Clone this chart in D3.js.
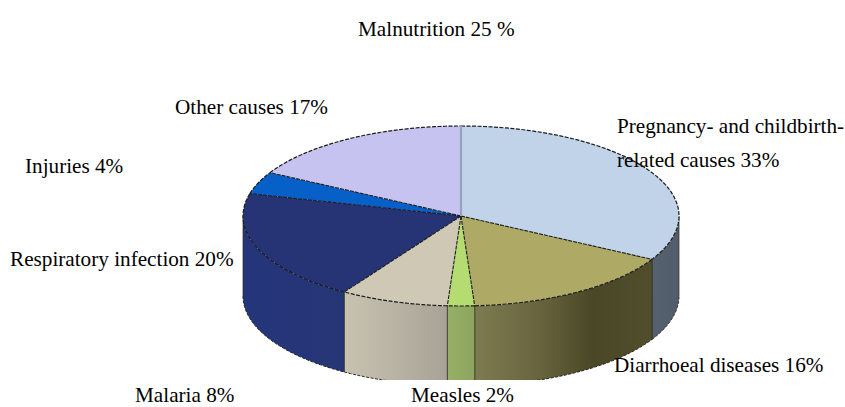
<!DOCTYPE html>
<html>
<head>
<meta charset="utf-8">
<script src="https://cdn.jsdelivr.net/npm/d3@7/dist/d3.min.js"></script>
<style>
html,body{margin:0;padding:0;background:#fff;overflow:hidden}
svg{display:block}
text{font-family:"Liberation Serif",serif;font-size:21.2px;fill:#000}
</style>
</head>
<body>
<svg id="chart" width="845" height="407"></svg>
<script>
// Causes of death shares, clockwise from twelve o'clock
const categories = ["Pregnancy","Diarrhoeal","Measles","Malaria","Respiratory","Injuries","Other"];
const shares = [33,16,2,8,20,4,17];
const topColors = ["#c0d3e8","#aeaa66","#b5dc70","#cfc8b5","#263374","#0660c8","#c6c3f0"];
const wallStops = [
  ["#56616f","#525c6b"],
  ["#7d7b50","#6a6740","#4a4726","#514e2c"],
  ["#96b066","#8ea45e"],
  ["#a8a396","#c8c2b1"],
  ["#263676","#24357a"],
  ["#000","#000"],
  ["#000","#000"]
];
const labelLines = [
  ["Malnutrition 25 %"],
  ["Other causes 17%"],
  ["Pregnancy- and childbirth-","related causes 33%"],
  ["Injuries 4%"],
  ["Respiratory infection 20%"],
  ["Diarrhoeal diseases 16%"],
  ["Malaria 8%"],
  ["Measles 2%"]
];
const labelX = [358,175,617,25,10,614,135,411];
const labelY = [36,114,133,173,266,372,402,402];

const W = 845, H = 407;
const svg = d3.select("#chart");
const defs = svg.append("defs");

// Ellipse geometry of the tilted disc
const cx = 461, cy = 216, rx = 218, ry = 90, depth = 80, floorY = 380;
const px = d3.scaleLinear().domain([-1,1]).range([cx-rx,cx+rx]);
const py = d3.scaleLinear().domain([-1,1]).range([cy-ry,cy+ry]);
const rimPoint = a => [px(Math.sin(a)), py(-Math.cos(a))];

const slices = d3.pie().sort(null).value(d => d)(shares);
const rimLine = d3.line();
const rimPoints = (a0,a1) => d3.range(0,61).map(i => rimPoint(a0+(a1-a0)*i/60));

defs.append("clipPath").attr("id","floor").append("rect")
  .attr("x",0).attr("y",0).attr("width",W).attr("height",floorY);

// Side walls: only the front half of the disc is visible
const walls = svg.append("g").attr("clip-path","url(#floor)");
slices.forEach((s,i) => {
  const a0 = Math.max(s.startAngle, Math.PI/2);
  const a1 = Math.min(s.endAngle, Math.PI*1.5);
  if (a1 <= a0) return;
  const rim = rimPoints(a0,a1);
  const xs = d3.extent(rim, d => d[0]);
  const grad = defs.append("linearGradient").attr("id","wall"+i)
    .attr("gradientUnits","userSpaceOnUse")
    .attr("x1", i < 3 ? xs[0] : xs[1]).attr("x2", i < 3 ? xs[1] : xs[0])
    .attr("y1",0).attr("y2",0);
  wallStops[i].forEach((c,k,all) => grad.append("stop")
    .attr("offset",k/(all.length-1)).attr("stop-color",c));
  const lower = rim.slice().reverse().map(d => [d[0],d[1]+depth]);
  walls.append("path").attr("class","wall")
    .attr("d", rimLine(rim.concat(lower))+"Z")
    .attr("fill","url(#wall"+i+")");
  [rim[0], rim[rim.length-1]].forEach(p => {
    walls.append("line").attr("x1",p[0]).attr("x2",p[0]).attr("y1",p[1]).attr("y2",p[1]+depth)
      .attr("stroke","#2e2e20").attr("stroke-opacity",0.7);
  });
  walls.append("path").attr("d",rimLine(lower)).attr("fill","none")
    .attr("stroke","#222").attr("stroke-dasharray","3 1.5");
});

// Top face wedges
const face = svg.append("g");
slices.forEach((s,i) => {
  const rim = rimPoints(s.startAngle,s.endAngle);
  face.append("path").attr("d",rimLine([[cx,cy]].concat(rim))+"Z")
    .attr("fill",topColors[i]);
});
slices.forEach((s,i) => {
  const rim = rimPoints(s.startAngle,s.endAngle);
  face.append("path").attr("d",rimLine(rim)).attr("fill","none")
    .attr("stroke","#1c1c1c").attr("stroke-width",1.2).attr("stroke-dasharray","4 1.5");
  if (i > 0) {
    face.append("path").attr("d",rimLine([[cx,cy],rim[0]])).attr("fill","none")
      .attr("stroke","#1c1c1c").attr("stroke-width",1.1).attr("stroke-dasharray","4 1");
  }
});
// The first radius reads as a pale seam between the two lightest wedges
face.append("path").attr("d",rimLine([[cx,cy],rimPoint(0)])).attr("fill","none")
  .attr("stroke","#98a2bd").attr("stroke-width",2.2);

// Labels sit above the pie
const labels = svg.append("g");
labelLines.forEach((lines,i) => {
  lines.forEach((line,k) => {
    labels.append("text").attr("x",labelX[i]).attr("y",labelY[i]+k*34).text(line);
  });
});
</script>
</body>
</html>
